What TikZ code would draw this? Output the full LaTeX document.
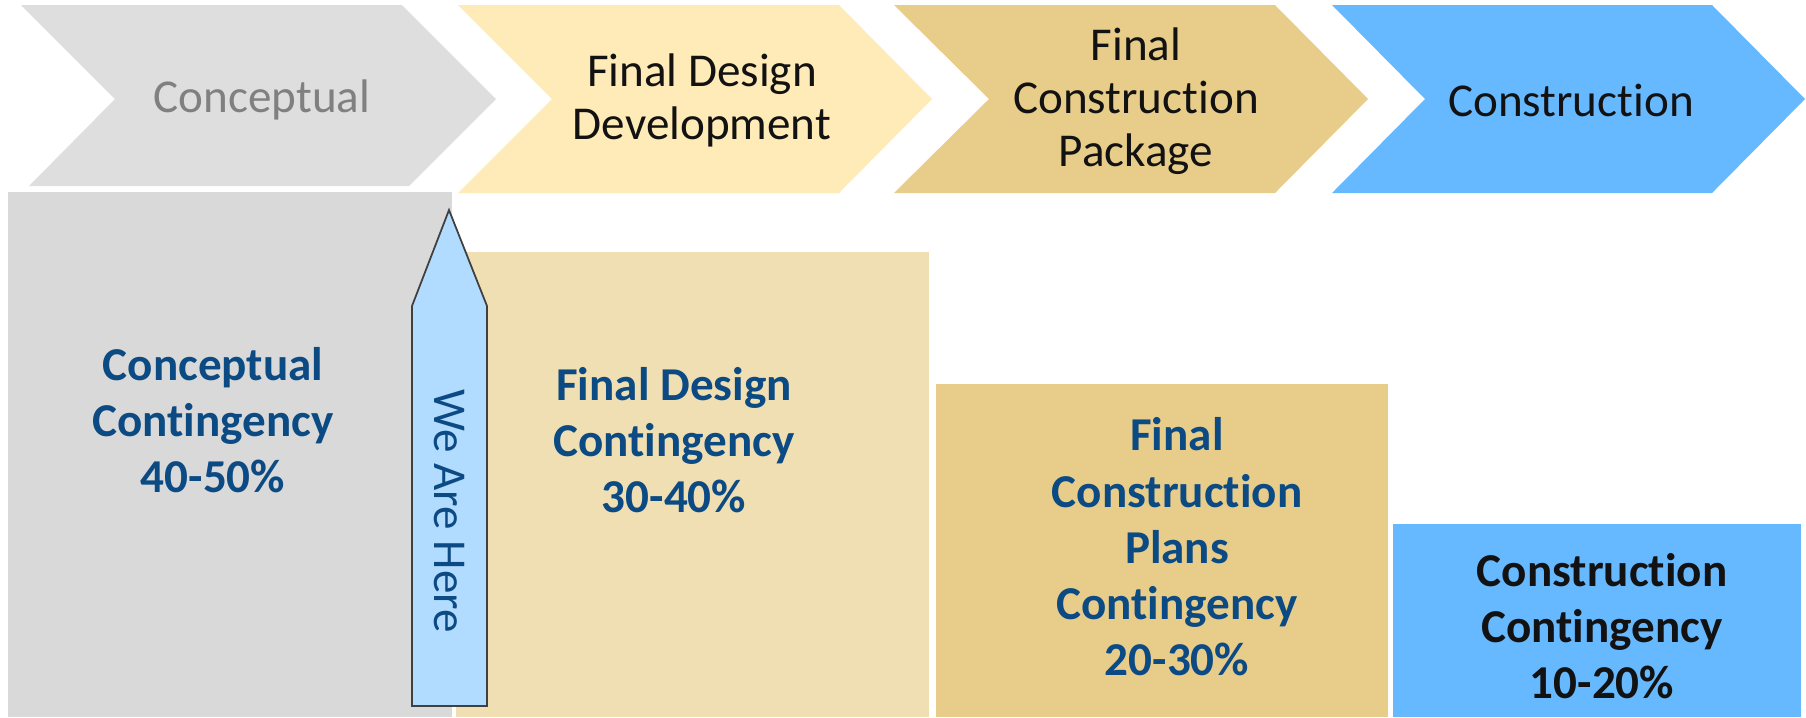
\documentclass[tikz,border=0pt]{standalone}
\usepackage{fontspec}
\setmainfont{Carlito}[Ligatures={CommonOff,RareOff,ContextualOff,RequiredOff}]

\definecolor{chevgray}{HTML}{DEDEDE}
\definecolor{boxgray}{HTML}{D9D9D9}
\definecolor{chevyellow}{HTML}{FFEBB8}
\definecolor{boxyellow}{HTML}{F0DFB2}
\definecolor{tan}{HTML}{E8CD8A}
\definecolor{skyblue}{HTML}{66B9FF}
\definecolor{herefill}{HTML}{B1DBFF}
\definecolor{deepblue}{HTML}{0C4A84}
\definecolor{labelgray}{HTML}{808080}

\begin{document}
\begin{tikzpicture}[x=0.01cm, y=-0.01cm,
    phase/.style={align=center, text=black!93, font=\fontsize{13.4}{15.1}\selectfont},
    contingency/.style={align=center, text=deepblue, font=\bfseries\fontsize{13.4}{16}\selectfont},
    herearrow/.style={fill=herefill, draw=black!75, line width=0.5pt, line join=miter}]
  \useasboundingbox (0,0) rectangle (1806,717);

  % phase chevrons
  \fill[chevgray] (21,5) -- (402,5) -- (496,99) -- (409,186) -- (29,186) -- (115,99) -- cycle;
  \fill[chevyellow] (458,5) -- (839,5) -- (932,99) -- (839,193) -- (458,193) -- (552,99) -- cycle;
  \fill[tan] (894,5) -- (1275,5) -- (1368,99) -- (1275,193) -- (894,193) -- (989,99) -- cycle;
  \fill[skyblue] (1332,5) -- (1712,5) -- (1805,99) -- (1712,193) -- (1332,193) -- (1425,99) -- cycle;

  \node[phase, text=labelgray] (conceptual) at (262,100) {Conceptual};
  \node[phase] (design) at (702,100) {Final Design\\Development};
  \node[phase] (package) at (1136,101) {Final\\Construction\\Package};
  \node[phase] (construction) at (1571,100) {Construction};

  % contingency blocks
  \fill[boxgray] (8,192) rectangle (452,717);
  \fill[boxyellow] (456,252) rectangle (929,717);
  \fill[tan] (936,384) rectangle (1388,717);
  \fill[skyblue] (1393,524) rectangle (1801,717);

  \node[contingency] (conceptualcont) at (213,420) {Conceptual\\Contingency\\40-50\%};
  \node[contingency] (designcont) at (674,440) {Final Design\\Contingency\\30-40\%};
  \node[contingency] (plancont) at (1177,547) {Final\\Construction\\Plans\\Contingency\\20-30\%};
  \node[contingency, text=black!93] (constructcont) at (1602,626) {Construction\\Contingency\\10-20\%};

  % we are here marker
  \draw[herearrow] (449,210) -- (487,306) -- (487,706) -- (412,706) -- (412,306) -- cycle;
  \node[rotate=-90, text=deepblue, font=\fontsize{13.4}{14.5}\selectfont] (here) at (449,511) {We Are Here};
\end{tikzpicture}
\end{document}
